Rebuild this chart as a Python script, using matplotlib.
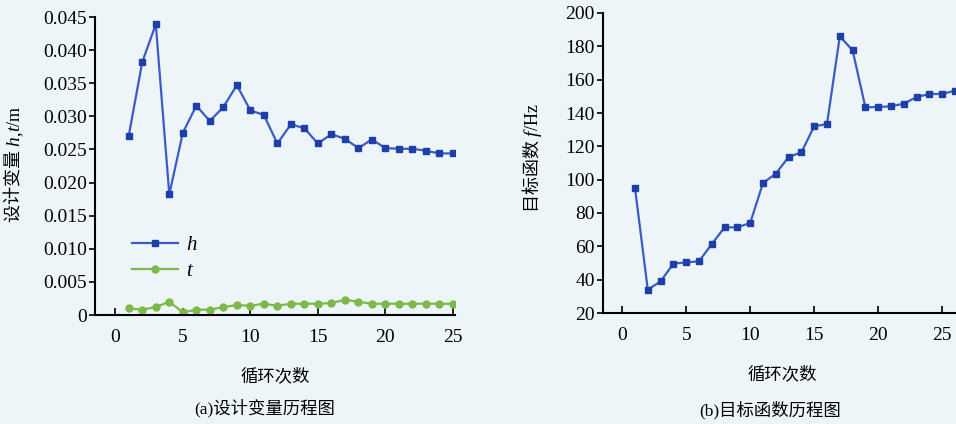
import matplotlib.pyplot as plt

plt.rcParams['font.family'] = ['Liberation Serif', 'Noto Sans CJK SC']

# 循环次数
loops = list(range(1, 26))
loops_f = list(range(1, 27))

h = [0.0271, 0.0382, 0.0439, 0.0182, 0.0275, 0.0316, 0.0293, 0.0314, 0.0347, 0.0309,
     0.0302, 0.0259, 0.0288, 0.0282, 0.0259, 0.0273, 0.0266, 0.0252, 0.0265, 0.0252,
     0.0251, 0.0251, 0.0248, 0.0244, 0.0244]
t = [0.0010, 0.0008, 0.0012, 0.0020, 0.0004, 0.0008, 0.0008, 0.0012, 0.0015, 0.0014,
     0.0017, 0.0014, 0.0017, 0.0017, 0.0017, 0.0018, 0.0023, 0.0020, 0.0017, 0.0017,
     0.0017, 0.0017, 0.0017, 0.0017, 0.0017]
f = [95, 34, 39, 49.6, 50.4, 51, 61.4, 71.4, 71.4, 74,
     98, 103.6, 113.6, 116.4, 132, 133.4, 186, 177.6, 143.4, 143.6,
     144, 145.6, 149.6, 151.4, 151.4, 153.4]

bg = '#eef5f9'
blue = '#3a5cc4'
blue_m = '#1f3fa8'
green = '#7db84a'

fig = plt.figure(figsize=(9.56, 4.24), dpi=100)
fig.patch.set_facecolor(bg)

ax1 = fig.add_axes([95 / 956, 1 - 315 / 424, 360 / 956, 298 / 424])
ax2 = fig.add_axes([603 / 956, 1 - 313 / 424, 358.4 / 956, 300 / 424])

for ax in (ax1, ax2):
    ax.set_facecolor(bg)
    ax.spines['top'].set_visible(False)
    ax.spines['right'].set_visible(False)
    ax.spines['left'].set_linewidth(1.5)
    ax.spines['bottom'].set_linewidth(1.5)
    ax.tick_params(axis='x', direction='in', length=5, width=1.2, labelsize=14, pad=10)
    ax.tick_params(axis='y', direction='out', length=4, width=1.2, labelsize=14, pad=2)
    ax.set_xticks([0, 5, 10, 15, 20, 25])
    ax.set_xlabel('循环次数', fontsize=12.5, labelpad=16)


def ylabel_parts(x, y_bottom, parts):
    # 竖排 y 轴标签: 中文 + 斜体变量 + 单位, 依次向上拼接
    prev = None
    for txt, italic in parts:
        kw = dict(rotation=90, ha='center', va='bottom', fontsize=13)
        if italic:
            kw.update(style='italic', family='Liberation Serif', fontsize=14)
        if prev is None:
            prev = fig.text(x, y_bottom, txt, **kw)
        else:
            prev = fig.add_artist(plt.Annotation(txt, xy=(0.5, 1), xycoords=prev, **kw))


# (a) 设计变量
ax1.plot(loops, h, '-s', color=blue, mfc=blue_m, mec=blue_m, ms=5, lw=1.6, label='h')
ax1.plot(loops, t, '-o', color=green, mfc=green, mec=green, ms=5, lw=1.6, label='t')
ax1.set_xlim(-1.5, 25.15)
ax1.set_ylim(0, 0.045)
ax1.set_yticks([0, 0.005, 0.010, 0.015, 0.020, 0.025, 0.030, 0.035, 0.040, 0.045])
ax1.set_yticklabels(['0', '0.005', '0.010', '0.015', '0.020', '0.025', '0.030',
                     '0.035', '0.040', '0.045'])
leg = ax1.legend(loc='upper left', bbox_to_anchor=(0.05, 0.33), frameon=False,
                 fontsize=15, handlelength=2.2, handletextpad=0.4, labelspacing=0.3)
for tx in leg.get_texts():
    tx.set_style('italic')
ylabel_parts(15 / 956, 1 - 222 / 424, [('设计变量 ', False), ('h', True), (',', False),
                                       ('t', True), ('/m', False)])
fig.text(265 / 956, 1 - 408 / 424, '(a)设计变量历程图', ha='center', va='center',
         fontsize=12.5)

# (b) 目标函数
ax2.plot(loops_f, f, '-s', color=blue, mfc=blue_m, mec=blue_m, ms=5, lw=1.6)
ax2.set_xlim(-1.5, 26.5)
ax2.set_ylim(20, 200)
ax2.set_yticks(range(20, 201, 20))
ylabel_parts(533 / 956, 1 - 212 / 424, [('目标函数 ', False), ('f', True), ('/Hz', False)])
fig.text(770 / 956, 1 - 410 / 424, '(b)目标函数历程图', ha='center', va='center',
         fontsize=12.5)

fig.savefig('out.png', dpi=100, facecolor=bg)
